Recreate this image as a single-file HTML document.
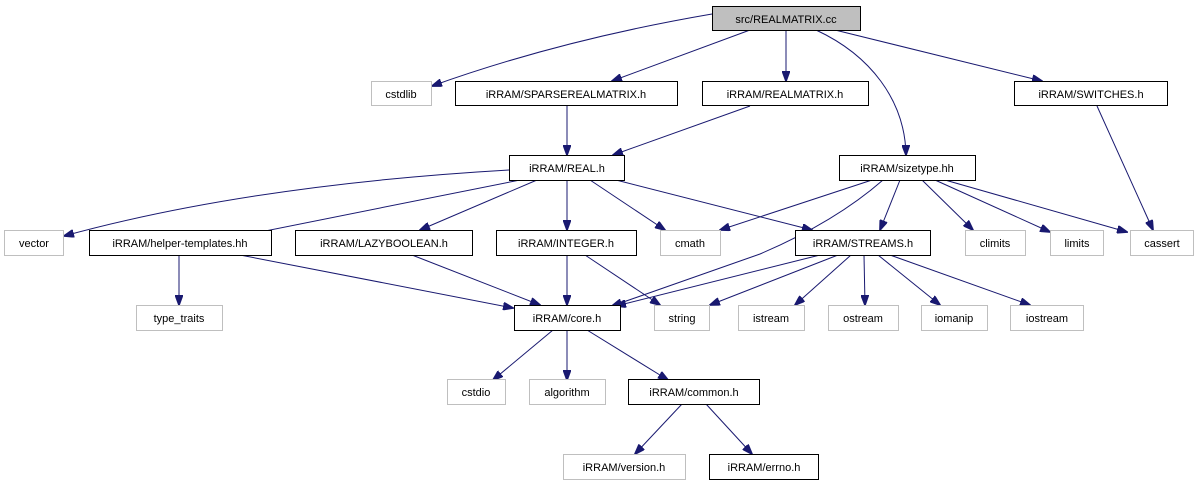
<!DOCTYPE html>
<html><head><meta charset="utf-8"><style>
html,body{margin:0;padding:0;background:#fff;}
svg{display:block;}
text{font-family:"Liberation Sans",sans-serif;font-size:11px;fill:#000;text-anchor:middle;}
.b{fill:#fff;stroke:#000;stroke-width:1;}
.g{fill:#fff;stroke:#bfbfbf;stroke-width:1;}
path{fill:none;stroke:#191970;stroke-width:1;}
</style></head><body>
<svg width="1198" height="485" viewBox="0 0 1198 485" xmlns="http://www.w3.org/2000/svg">
<defs><marker id="a" markerWidth="11" markerHeight="8" refX="10" refY="4" orient="auto" markerUnits="userSpaceOnUse"><polygon points="0,0 11,4 0,8" fill="#191970" stroke="#191970"/></marker></defs>
<g marker-end="url(#a)">
<path d="M712,14 Q560,40 432,86"/>
<path d="M750,30 L612,81"/>
<path d="M786,30 L786,81"/>
<path d="M816,30 C870,55 905,100 906,155"/>
<path d="M835,30 L1042,81"/>
<path d="M567,106 L567,155"/>
<path d="M750,106 L613,155"/>
<path d="M1097,106 L1153,230"/>
<path d="M509,170 Q250,185 64,236"/>
<path d="M520,180 L240,236"/>
<path d="M537,180 L420,230"/>
<path d="M567,180 L567,230"/>
<path d="M590,180 L665,230"/>
<path d="M616,180 L812,230"/>
<path d="M872,180 L720,230"/>
<path d="M883,180 Q835,222 760,254 L612,306"/>
<path d="M900,180 L880,230"/>
<path d="M922,180 L973,230"/>
<path d="M935,180 L1050,232"/>
<path d="M945,180 L1127,232"/>
<path d="M179,255 L179,305"/>
<path d="M240,255 L513,308"/>
<path d="M412,255 L540,305"/>
<path d="M567,255 L567,305"/>
<path d="M585,255 L660,305"/>
<path d="M820,255 L616,306"/>
<path d="M838,255 L710,305"/>
<path d="M851,255 L795,305"/>
<path d="M864,255 L865,305"/>
<path d="M878,255 L940,305"/>
<path d="M890,255 L1030,305"/>
<path d="M553,330 L493,380"/>
<path d="M567,330 L567,380"/>
<path d="M587,330 L668,380"/>
<path d="M682,404 L635,454"/>
<path d="M706,404 L752,454"/>
</g>
<rect x="712.5" y="6.5" width="148" height="24" fill="#bfbfbf" stroke="#000"/><text x="786" y="23">src/REALMATRIX.cc</text>
<rect class="g" x="371.5" y="81.5" width="60" height="24"/><text x="401" y="98">cstdlib</text>
<rect class="b" x="455.5" y="81.5" width="222" height="24"/><text x="566" y="98">iRRAM/SPARSEREALMATRIX.h</text>
<rect class="b" x="702.5" y="81.5" width="166" height="24"/><text x="785" y="98">iRRAM/REALMATRIX.h</text>
<rect class="b" x="1014.5" y="81.5" width="153" height="24"/><text x="1091" y="98">iRRAM/SWITCHES.h</text>
<rect class="b" x="509.5" y="155.5" width="115" height="25"/><text x="567" y="172">iRRAM/REAL.h</text>
<rect class="b" x="839.5" y="155.5" width="136" height="25"/><text x="907" y="172">iRRAM/sizetype.hh</text>
<rect class="g" x="4.5" y="230.5" width="59" height="25"/><text x="34" y="247">vector</text>
<rect class="b" x="89.5" y="230.5" width="182" height="25"/><text x="180" y="247">iRRAM/helper-templates.hh</text>
<rect class="b" x="295.5" y="230.5" width="177" height="25"/><text x="384" y="247">iRRAM/LAZYBOOLEAN.h</text>
<rect class="b" x="496.5" y="230.5" width="140" height="25"/><text x="566" y="247">iRRAM/INTEGER.h</text>
<rect class="g" x="660.5" y="230.5" width="60" height="25"/><text x="690" y="247">cmath</text>
<rect class="b" x="795.5" y="230.5" width="135" height="25"/><text x="863" y="247">iRRAM/STREAMS.h</text>
<rect class="g" x="965.5" y="230.5" width="60" height="25"/><text x="995" y="247">climits</text>
<rect class="g" x="1050.5" y="230.5" width="53" height="25"/><text x="1077" y="247">limits</text>
<rect class="g" x="1130.5" y="230.5" width="63" height="25"/><text x="1162" y="247">cassert</text>
<rect class="g" x="136.5" y="305.5" width="86" height="25"/><text x="179" y="322">type_traits</text>
<rect class="b" x="514.5" y="305.5" width="106" height="25"/><text x="567" y="322">iRRAM/core.h</text>
<rect class="g" x="654.5" y="305.5" width="55" height="25"/><text x="682" y="322">string</text>
<rect class="g" x="738.5" y="305.5" width="66" height="25"/><text x="771" y="322">istream</text>
<rect class="g" x="828.5" y="305.5" width="70" height="25"/><text x="863" y="322">ostream</text>
<rect class="g" x="921.5" y="305.5" width="66" height="25"/><text x="954" y="322">iomanip</text>
<rect class="g" x="1010.5" y="305.5" width="73" height="25"/><text x="1047" y="322">iostream</text>
<rect class="g" x="447.5" y="379.5" width="58" height="25"/><text x="476" y="396">cstdio</text>
<rect class="g" x="529.5" y="379.5" width="76" height="25"/><text x="567" y="396">algorithm</text>
<rect class="b" x="628.5" y="379.5" width="131" height="25"/><text x="694" y="396">iRRAM/common.h</text>
<rect class="g" x="563.5" y="454.5" width="122" height="25"/><text x="624" y="471">iRRAM/version.h</text>
<rect class="b" x="709.5" y="454.5" width="109" height="25"/><text x="764" y="471">iRRAM/errno.h</text>
</svg>
</body></html>
